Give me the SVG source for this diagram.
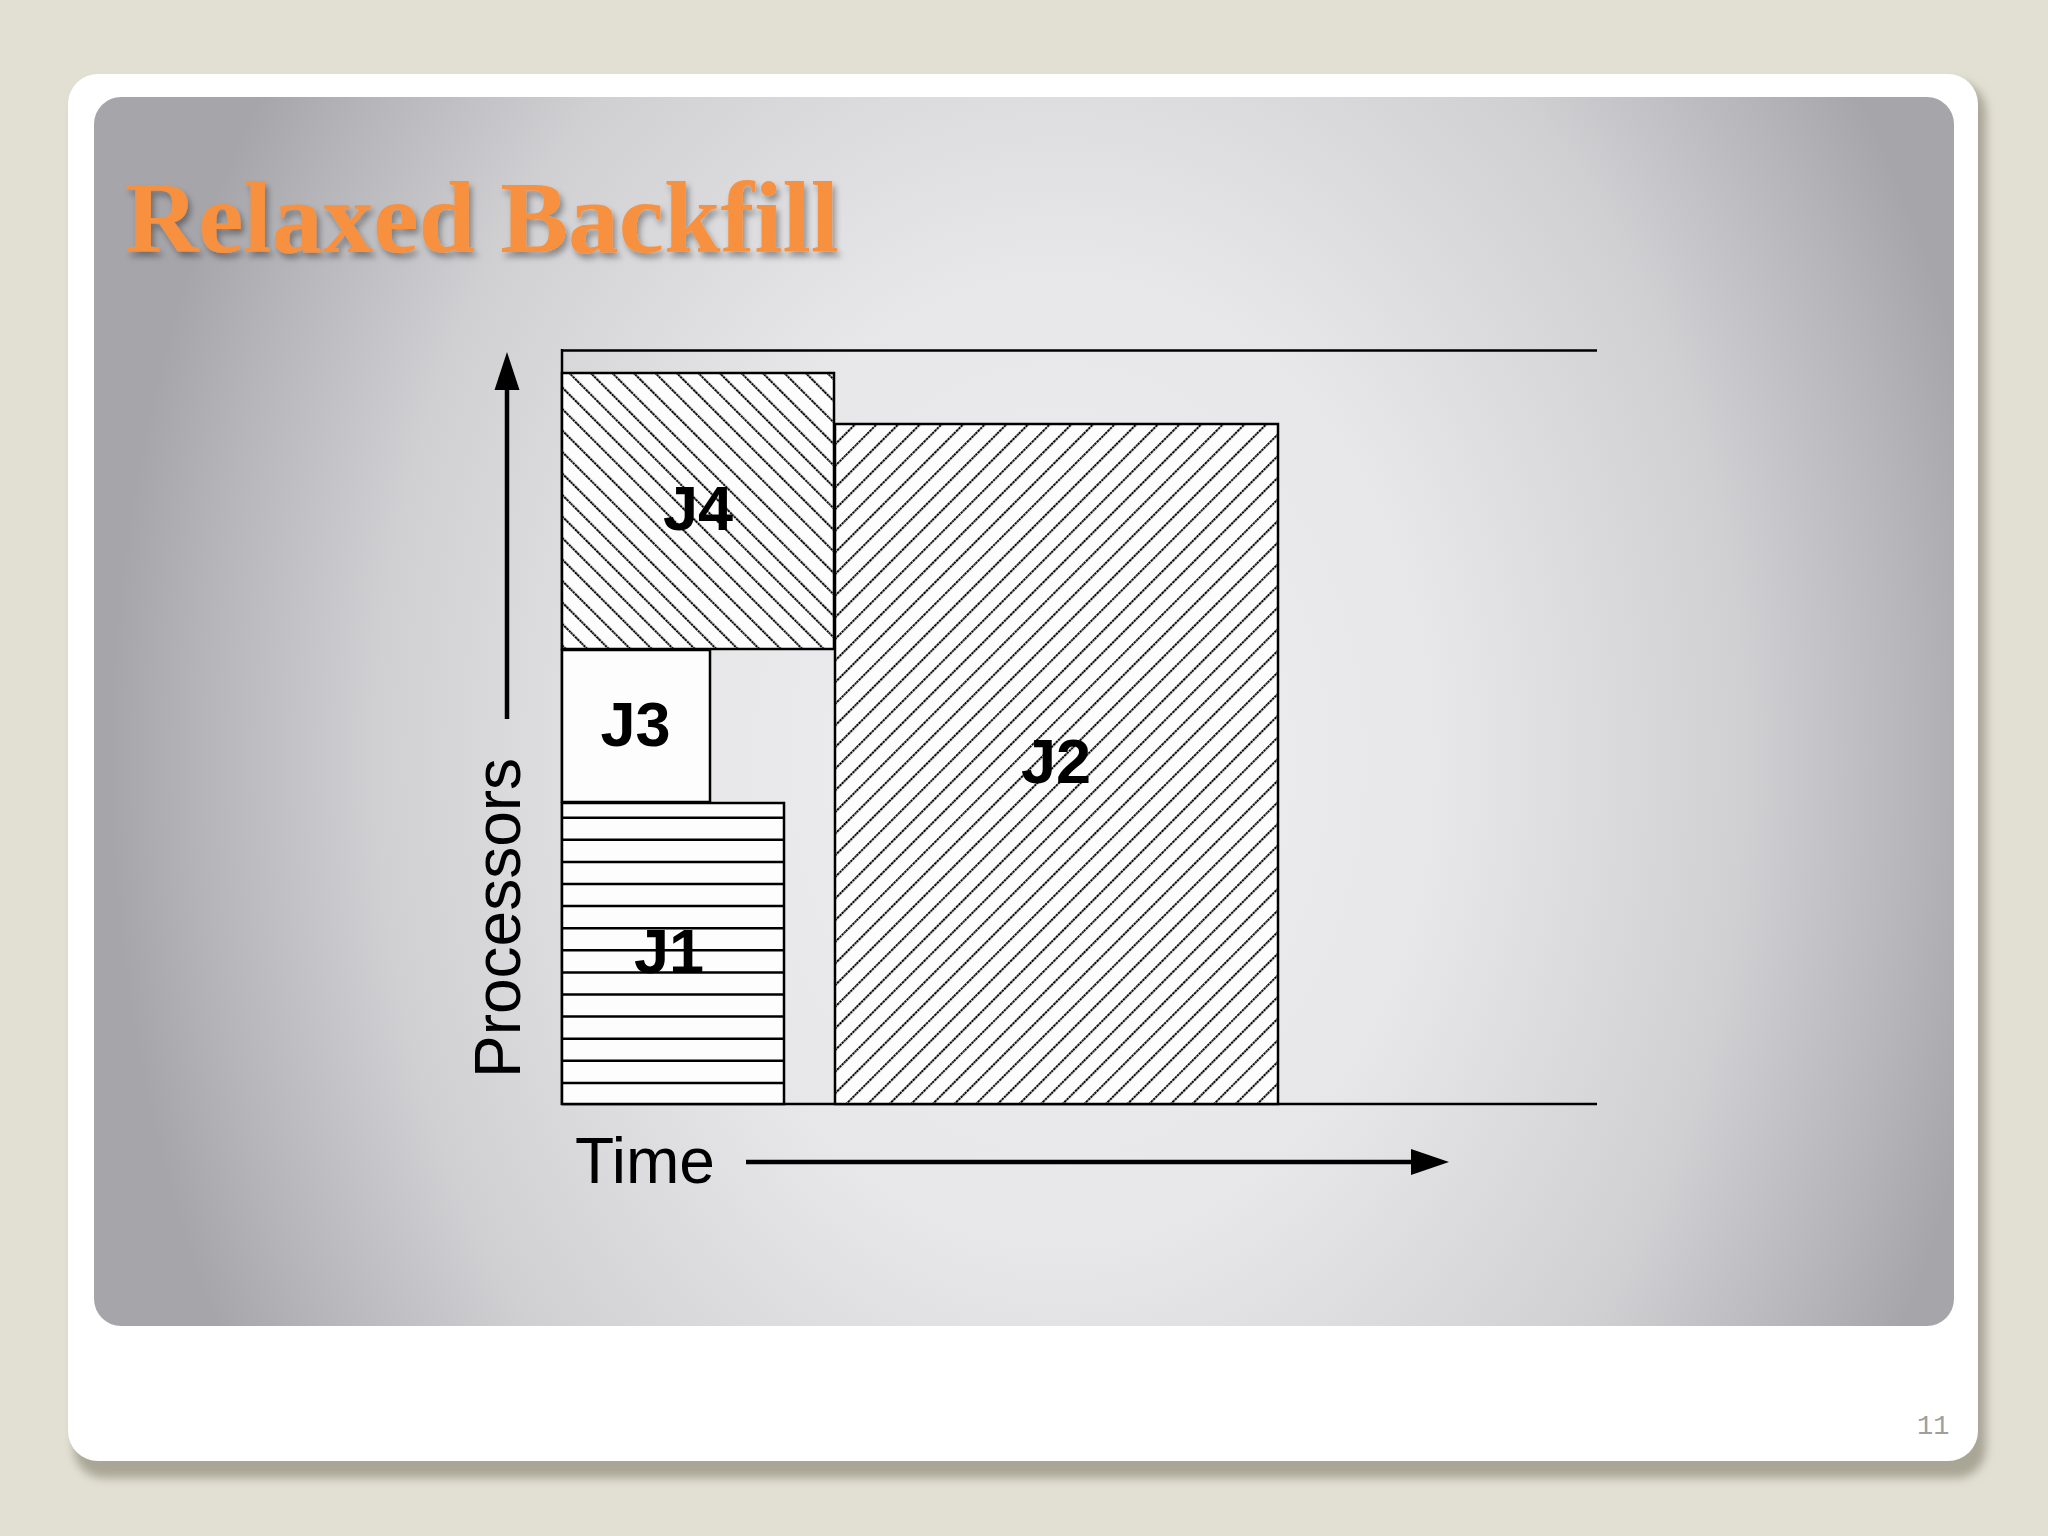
<svg xmlns="http://www.w3.org/2000/svg" width="2048" height="1536" viewBox="0 0 2048 1536">
  <defs>
    <radialGradient id="panelGrad" gradientUnits="userSpaceOnUse" cx="1060" cy="760" r="950" gradientTransform="translate(1060 760) scale(1 1.3) translate(-1060 -760)">
      <stop offset="0" stop-color="#EFEFF1"/>
      <stop offset="0.4" stop-color="#E7E7E9"/>
      <stop offset="0.72" stop-color="#D0D0D3"/>
      <stop offset="0.9" stop-color="#B6B5B9"/>
      <stop offset="1" stop-color="#A6A5AA"/>
    </radialGradient>
    <filter id="cardShadow" x="-5%" y="-5%" width="110%" height="110%">
      <feGaussianBlur stdDeviation="5"/>
    </filter>
    <filter id="titleShadow" x="-5%" y="-20%" width="110%" height="150%">
      <feDropShadow dx="3" dy="5" stdDeviation="3" flood-color="#000" flood-opacity="0.35"/>
    </filter>
    <pattern id="hatchFwd" patternUnits="userSpaceOnUse" width="15.3" height="15.3" patternTransform="rotate(45)">
      <rect width="15.3" height="15.3" fill="#FDFDFD"/>
      <line x1="2" y1="-1" x2="2" y2="17" stroke="#000" stroke-width="2" stroke-dasharray="2.6 0.7"/>
    </pattern>
    <pattern id="hatchBack" patternUnits="userSpaceOnUse" width="15.2" height="15.2" patternTransform="rotate(-45)">
      <rect width="15.2" height="15.2" fill="#FDFDFD"/>
      <line x1="2" y1="-1" x2="2" y2="17" stroke="#000" stroke-width="2" stroke-dasharray="2.6 0.7"/>
    </pattern>
    <style>
      .box { stroke: #000; stroke-width: 2.5; }
      .lbl { font-family: "Liberation Sans", Arial, sans-serif; font-weight: bold; font-size: 63px; fill: #000; text-anchor: middle; }
      .axis { font-family: "Liberation Sans", Arial, sans-serif; font-size: 64px; fill: #000; }
      .rule { stroke: #000; stroke-width: 2.5; fill: none; }
      .arr { stroke: #000; stroke-width: 4.5; fill: none; }
    </style>
  </defs>

  <!-- background -->
  <rect x="0" y="0" width="2048" height="1536" fill="#E2DFD3"/>
  <!-- card shadow -->
  <rect x="74" y="82" width="1912" height="1396" rx="30" fill="#A9A696" filter="url(#cardShadow)"/>
  <!-- card -->
  <rect x="68" y="74" width="1910" height="1387" rx="30" fill="#FFFFFF"/>
  <!-- gray panel -->
  <rect x="94" y="97" width="1860" height="1229" rx="27" fill="url(#panelGrad)"/>

  <!-- title -->
  <text x="125" y="252" font-family="'Liberation Serif', 'Times New Roman', serif" font-weight="bold" font-size="102" fill="#F7913F" textLength="714" lengthAdjust="spacingAndGlyphs" filter="url(#titleShadow)">Relaxed Backfill</text>

  <!-- frame lines -->
  <g id="frame">
    <line class="rule" x1="562" y1="350.5" x2="1597" y2="350.5"/>
    <line class="rule" x1="562" y1="1104" x2="1597" y2="1104"/>
    <line class="rule" x1="562" y1="349" x2="562" y2="1105"/>
  </g>

  <!-- J4 -->
  <g id="J4">
    <rect class="box" x="562" y="373" width="272" height="276" fill="url(#hatchBack)"/>
    <text class="lbl" x="698" y="530">J4</text>
  </g>

  <!-- J2 -->
  <g id="J2">
    <rect class="box" x="835" y="424" width="443" height="680" fill="url(#hatchFwd)"/>
    <text class="lbl" x="1056" y="783">J2</text>
  </g>

  <!-- J3 -->
  <g id="J3">
    <rect class="box" x="562" y="650" width="148" height="152" fill="#FDFDFD"/>
    <text class="lbl" x="635.5" y="746">J3</text>
  </g>

  <!-- J1 -->
  <g id="J1">
    <rect class="box" x="562" y="803" width="222" height="301" fill="#FDFDFD"/>
    <g stroke="#000" stroke-width="2.5">
      <line x1="562" y1="817.7" x2="784" y2="817.7"/>
      <line x1="562" y1="839.8" x2="784" y2="839.8"/>
      <line x1="562" y1="861.9" x2="784" y2="861.9"/>
      <line x1="562" y1="884" x2="784" y2="884"/>
      <line x1="562" y1="906.1" x2="784" y2="906.1"/>
      <line x1="562" y1="928.2" x2="784" y2="928.2"/>
      <line x1="562" y1="950.3" x2="784" y2="950.3"/>
      <line x1="562" y1="972.4" x2="784" y2="972.4"/>
      <line x1="562" y1="994.5" x2="784" y2="994.5"/>
      <line x1="562" y1="1016.6" x2="784" y2="1016.6"/>
      <line x1="562" y1="1038.7" x2="784" y2="1038.7"/>
      <line x1="562" y1="1060.8" x2="784" y2="1060.8"/>
      <line x1="562" y1="1082.9" x2="784" y2="1082.9"/>
    </g>
    <text class="lbl" x="669" y="973">J1</text>
  </g>

  <!-- axes arrows -->
  <g id="connectors">
    <line class="arr" x1="507" y1="719" x2="507" y2="385"/>
    <polygon points="507,352 494.5,390 519.5,390" fill="#000"/>
    <line class="arr" x1="746" y1="1162" x2="1415" y2="1162"/>
    <polygon points="1449,1162 1411,1149 1411,1175" fill="#000"/>
  </g>

  <!-- axis labels -->
  <text class="axis" transform="translate(520 1078) rotate(-90)">Processors</text>
  <text class="axis" x="575" y="1183" textLength="140" lengthAdjust="spacingAndGlyphs">Time</text>

  <!-- page number -->
  <text x="1917" y="1434" font-family="'Liberation Mono', 'Courier New', monospace" font-size="27" fill="#9E9E9E">11</text>
</svg>
